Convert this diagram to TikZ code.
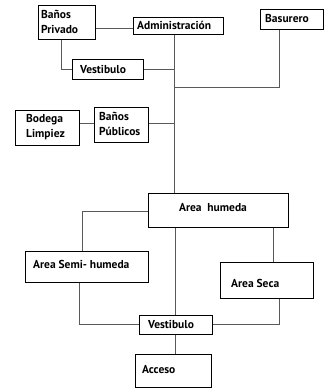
\documentclass[tikz,border=0pt]{standalone}
\usepackage{fontspec}
\setmainfont{PT Sans}
\begin{document}
\begin{tikzpicture}[x=1pt,y=-1pt,
  box/.style={draw=black,line width=0.8pt,fill=white,anchor=north west,inner sep=0pt},
  lbl/.style={anchor=west,inner sep=0pt,font=\bfseries\fontsize{11.5}{15}\selectfont,align=left},
  wire/.style={draw=black!65,line width=0.9pt}]
\useasboundingbox (0,0) rectangle (325,389);
% boxes
\node[box,minimum width=57pt,minimum height=34pt] (bp) at (38,5) {};
\node[box,minimum width=90pt,minimum height=17pt] (adm) at (133,17) {};
\node[box,minimum width=63pt,minimum height=20pt] (bas) at (260,9) {};
\node[box,minimum width=71pt,minimum height=20pt] (ves1) at (72,59) {};
\node[box,minimum width=64pt,minimum height=35pt] (bod) at (15,110) {};
\node[box,minimum width=54pt,minimum height=35pt] (bpu) at (94,107) {};
\node[box,minimum width=140pt,minimum height=34pt] (ah) at (148,193) {};
\node[box,minimum width=123pt,minimum height=31pt] (asm) at (25,251) {};
\node[box,minimum width=93pt,minimum height=36pt] (as) at (220,262) {};
\node[box,minimum width=73pt,minimum height=19pt] (ves2) at (139,315) {};
\node[box,minimum width=76pt,minimum height=33pt] (acc) at (135,354) {};
% labels
\node[lbl] (tbp) at (41,21.5) {Baños\\Privado};
\node[lbl] (tadm) at (137,25.5) {Administración};
\node[lbl] (tbas) at (265,18) {Basurero};
\node[lbl] (tves1) at (80,69) {Vestibulo};
\node[lbl] (tbod) at (26,127.5) {Bodega\\Limpiez};
\node[lbl] (tbpu) at (99,123.5) {Baños\\Públicos};
\node[lbl,anchor=center] (tah) at (213,208) {Area\ \ humeda};
\node[lbl] (tasm) at (33,264.5) {Area Semi- humeda};
\node[lbl] (tas) at (231,283) {Area Seca};
\node[lbl] (tves2) at (148,324.5) {Vestibulo};
\node[lbl] (tacc) at (142,369.5) {Acceso};
% junction coordinates
\coordinate (j1) at (174,69);
\coordinate (j2) at (174,87);
\coordinate (j3) at (174,123);
\coordinate (k1) at (61,69);
\coordinate (k2) at (279,87);
\coordinate (m1) at (82,211);
\coordinate (n1) at (79,324);
\coordinate (n2) at (279,324);
% connectors
\draw[wire] (bp.east |- 0,28) -- (adm.west |- 0,28);
\draw[wire] (adm.south -| j1) -- (ah.north -| j1);
\draw[wire] (bp.south -| k1) -- (k1) -- (ves1.west |- k1);
\draw[wire] (ves1.east |- j1) -- (j1);
\draw[wire] (bas.south -| k2) -- (k2) -- (j2);
\draw[wire] (bod.east |- j3) -- (bpu.west |- j3);
\draw[wire] (bpu.east |- j3) -- (j3);
\draw[wire] (ah.west |- m1) -- (m1) -- (asm.north -| m1);
\draw[wire] (ah.south -| 273,0) -- (as.north -| 273,0);
\draw[wire] (ah.south -| 175,0) -- (ves2.north -| 175,0);
\draw[wire] (asm.south -| n1) -- (n1) -- (ves2.west |- n1);
\draw[wire] (as.south -| n2) -- (n2) -- (ves2.east |- n2);
\draw[wire] (ves2.south -| 175,0) -- (acc.north -| 175,0);
\end{tikzpicture}
\end{document}
